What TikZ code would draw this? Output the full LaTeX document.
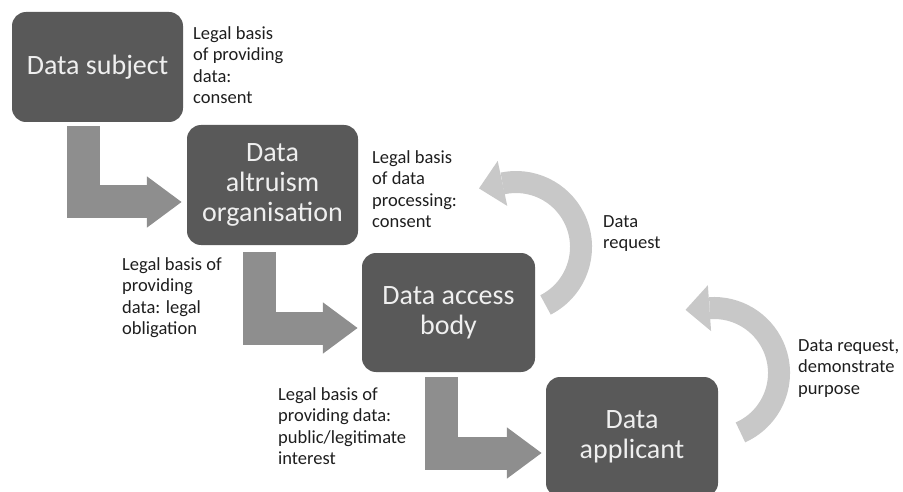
\documentclass[tikz,border=0pt]{standalone}
\usepackage{fontspec}
\setmainfont{Carlito}
\usetikzlibrary{calc,arrows.meta}
\definecolor{boxgray}{HTML}{595959}
\definecolor{elbowgray}{HTML}{8E8E8E}
\definecolor{loopgray}{HTML}{C8C8C8}
\definecolor{boxtext}{HTML}{EFEFEF}
\definecolor{notetext}{HTML}{1E1E1E}

\begin{document}
\begin{tikzpicture}[x=1pt,y=-1pt,
  stage/.style={fill=boxgray, rounded corners=14pt, text=boxtext, align=center,
    inner sep=0pt, font=\fontsize{28}{30}\selectfont},
  note/.style={anchor=north west, align=left, inner sep=0pt, text=notetext,
    font=\fontsize{18.5}{21.5}\selectfont},
  elbow/.style={draw=elbowgray, line width=33pt, line join=miter,
    -{Triangle[width=49pt,length=35pt]}},
  loop/.style={draw=loopgray, line width=22pt},
  loophead/.style={fill=loopgray},
]
\useasboundingbox (0,0) rectangle (903,492);
\clip (0,0) rectangle (903,492);

% stages of the data flow
\node[stage, minimum width=171pt, minimum height=110pt] (subject)  at (97.5,67)  {Data subject};
\node[stage, minimum width=171pt, minimum height=120pt] (altruism) at (272.5,185) {Data\\altruism\\organisation};
\node[stage, minimum width=173pt, minimum height=119pt] (access)   at (448.5,312.5) {Data access\\body};
\node[stage, minimum width=172pt, minimum height=120pt] (applicant) at (632,437) {Data\\applicant};

% elbow arrows passing data down the chain
\draw[elbow] ($(subject.south)+(-14,4)$)    |- ($(altruism.west)+(-5,17)$);
\draw[elbow] ($(altruism.south)+(-13.5,7)$) |- ($(access.west)+(-4,15.5)$);
\draw[elbow] ($(access.south)+(-7.5,5)$)    |- ($(applicant.west)+(-4,16)$);

% curved request arrows
\coordinate (loopA) at (516,247);
\coordinate (loopB) at (714,373);
\draw[loop] ($(loopA)+(63:65)$) arc[start angle=63, end angle=-102, radius=65];
\fill[loophead] ($(loopA)+(-102:88)$) -- ($(loopA)+(-102:42)$)
  -- ($(loopA)+(-102:65)+(-192:24)$) -- cycle;
\draw[loop] ($(loopB)+(66:65)$) arc[start angle=66, end angle=-94, radius=65];
\fill[loophead] ($(loopB)+(-94:88)$) -- ($(loopB)+(-94:42)$)
  -- ($(loopB)+(-94:65)+(-184:24)$) -- cycle;

% legal basis notes
\node[note] (n1) at (193,26)  {Legal basis\\of providing\\data:\\consent};
\node[note] (n2) at (372,150) {Legal basis\\of data\\processing:\\consent};
\node[note] (n3) at (122,257) {Legal basis of\\providing\\data: legal\\obligation};
\node[note] (n4) at (278,387) {Legal basis of\\providing data:\\public/legitimate\\interest};
\node[note] (n5) at (603,215) {Data\\request};
\node[note] (n6) at (798,339) {Data request,\\demonstrate\\purpose};
\end{tikzpicture}
\end{document}
